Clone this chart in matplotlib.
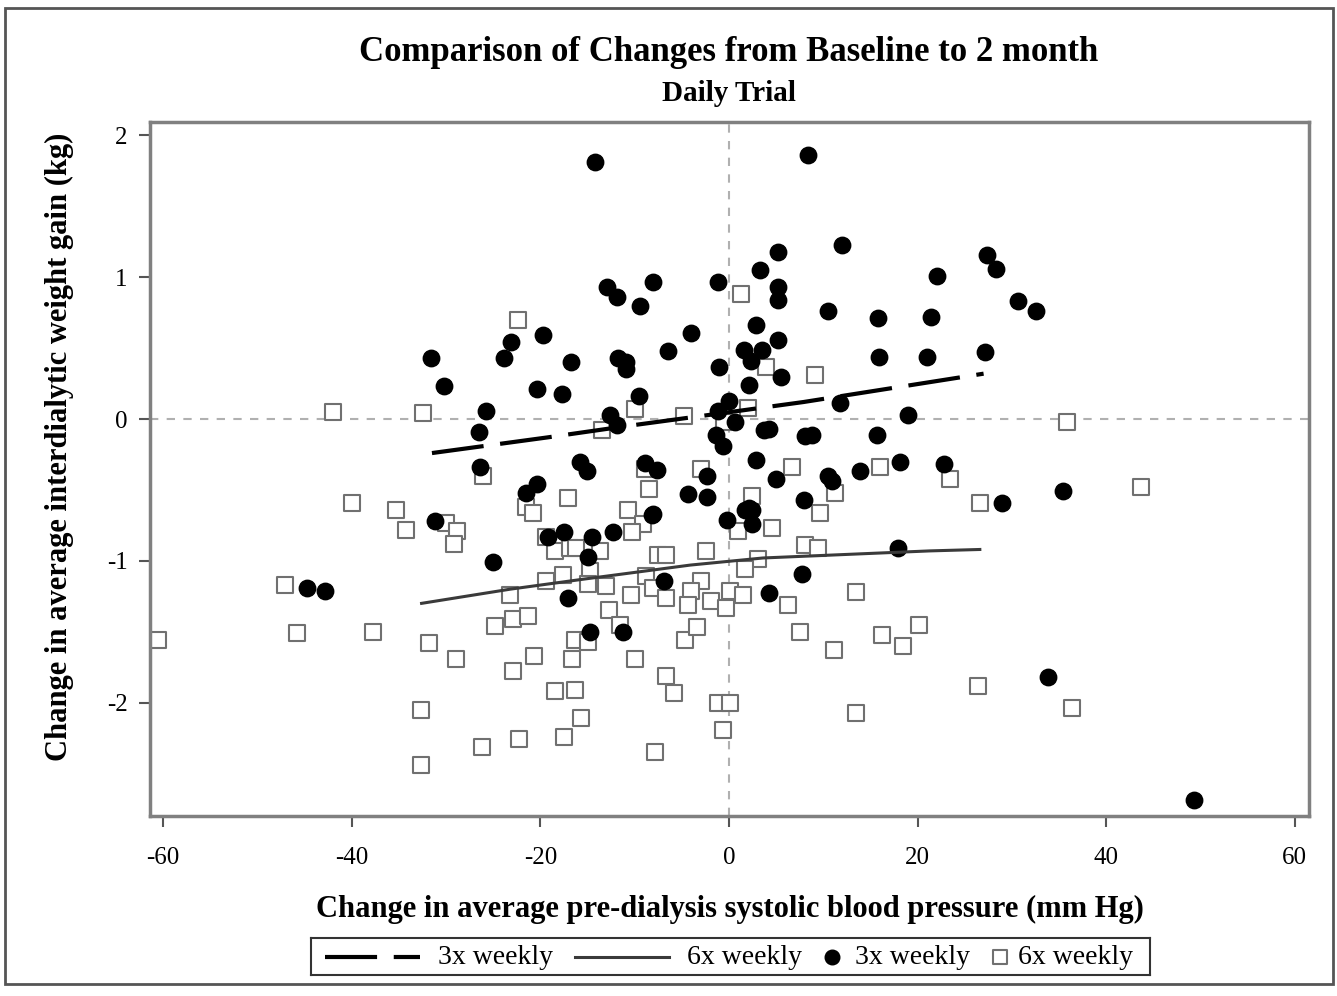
import matplotlib
matplotlib.use("Agg")
import matplotlib.pyplot as plt
from matplotlib.patches import Rectangle

plt.rcParams['font.family'] = ['Liberation Serif', 'DejaVu Serif']
plt.rcParams['axes.unicode_minus'] = False

# 3x weekly subjects (filled circles): change in SBP (mm Hg), change in IDWG (kg)
x_3x = [-14.2, 8.4, -31.6, -30.2, -25.8, -26.5, -23.1, -23.9, -19.7, -16.8,
        -20.4, -17.7, -12.9, -11.9, -9.4, -8.1, -4.0, -6.5, -11.8, -10.9,
        -10.9, -9.5, -12.6, -11.9, -1.2, -1.1, -1.4, -0.6, 0.0, -1.2,
        0.6, 2.1, 1.6, 3.5, 2.3, 2.9, 5.2, 5.5, 5.2, 3.3,
        5.2, 5.2, 12.0, 10.5, 15.8, 15.9, 21.0, 21.4, 22.1, 27.4,
        28.3, 30.7, 32.6, 27.1, 11.8, 19.0, 3.7, 4.2, 8.1, 8.8,
        15.7, 2.9, -2.3, 5.0, 10.5, 10.9, 13.9, 18.1, 22.8, -2.3,
        2.1, 8.0, 28.9, 35.4, 33.8, 49.3, -15.8, -15.1, -8.9, -7.6,
        -4.4, -8.1, -0.2, 1.7, 2.4, 2.4, 7.7, 4.2, 17.9, -26.4,
        -21.5, -20.4, -31.2, -25.0, -19.2, -17.5, -14.5, -12.3, -14.9, -8.2,
        -6.9, -17.1, -14.7, -11.2, -44.7, -42.8]
y_3x = [1.81, 1.86, 0.43, 0.23, 0.06, -0.09, 0.54, 0.43, 0.59, 0.40,
        0.21, 0.18, 0.93, 0.86, 0.80, 0.97, 0.61, 0.48, 0.43, 0.40,
        0.35, 0.16, 0.03, -0.04, 0.97, 0.37, -0.11, -0.19, 0.13, 0.06,
        -0.02, 0.24, 0.49, 0.49, 0.41, 0.66, 0.56, 0.30, 1.18, 1.05,
        0.93, 0.84, 1.23, 0.76, 0.71, 0.44, 0.44, 0.72, 1.01, 1.16,
        1.06, 0.83, 0.76, 0.47, 0.11, 0.03, -0.08, -0.07, -0.12, -0.11,
        -0.11, -0.29, -0.40, -0.42, -0.40, -0.44, -0.37, -0.30, -0.32, -0.55,
        -0.63, -0.57, -0.59, -0.51, -1.82, -2.69, -0.30, -0.37, -0.31, -0.36,
        -0.53, -0.67, -0.71, -0.64, -0.64, -0.74, -1.09, -1.23, -0.91, -0.34,
        -0.52, -0.46, -0.72, -1.01, -0.83, -0.80, -0.83, -0.80, -0.97, -0.68,
        -1.14, -1.26, -1.50, -1.50, -1.19, -1.21]

# 6x weekly subjects (open squares)
x_6x = [-42.0, -32.4, 1.3, -22.4, -10.0, -4.8, -13.5, 3.9, 9.1, 2.0,
        -0.5, 35.8, 43.7, 23.4, 26.6, 16.0, 6.7, 11.2, 9.7, 2.4,
        -3.0, -8.5, -17.1, -21.5, -20.8, -26.1, -8.9, -10.7, -9.1, -10.3,
        -19.4, -18.4, -16.9, -16.2, -13.7, -14.7, -7.5, -6.7, -2.4, -17.6,
        -19.4, -15.0, -13.0, -8.8, -8.1, -10.4, -6.7, -3.0, -4.0, -4.4,
        -23.2, -24.8, -22.9, -21.3, -31.8, -12.7, -11.6, -16.3, -15.0, -4.7,
        -3.4, -28.9, -22.9, -20.7, -16.6, -10.0, -18.5, -16.3, -6.7, -5.8,
        -32.7, -15.7, -26.2, -22.3, -17.5, -7.9, -32.7, -40.0, -35.3, -34.3,
        -30.0, -28.8, -29.2, -47.1, -45.8, -37.7, -60.5, 4.6, 1.0, 8.1,
        9.4, 3.1, 1.7, -1.9, 0.1, 1.5, -0.3, 6.3, 13.5, 7.5,
        11.1, 16.2, 18.4, 20.1, 26.4, -1.2, 0.1, -0.6, 13.5, 36.4]
y_6x = [0.05, 0.04, 0.88, 0.70, 0.07, 0.02, -0.08, 0.37, 0.31, 0.08,
        -0.02, -0.02, -0.48, -0.42, -0.59, -0.34, -0.34, -0.52, -0.66, -0.54,
        -0.35, -0.49, -0.56, -0.62, -0.66, -0.40, -0.35, -0.64, -0.74, -0.80,
        -0.83, -0.93, -0.91, -0.91, -0.93, -1.07, -0.96, -0.96, -0.93, -1.10,
        -1.14, -1.16, -1.18, -1.11, -1.19, -1.24, -1.26, -1.14, -1.21, -1.31,
        -1.24, -1.46, -1.41, -1.39, -1.58, -1.35, -1.45, -1.56, -1.57, -1.56,
        -1.47, -1.69, -1.78, -1.67, -1.69, -1.69, -1.92, -1.91, -1.81, -1.93,
        -2.05, -2.11, -2.31, -2.26, -2.24, -2.35, -2.44, -0.59, -0.64, -0.78,
        -0.73, -0.79, -0.88, -1.17, -1.51, -1.50, -1.56, -0.77, -0.79, -0.89,
        -0.91, -0.99, -1.06, -1.28, -1.21, -1.24, -1.33, -1.31, -1.22, -1.50,
        -1.63, -1.52, -1.60, -1.45, -1.88, -2.00, -2.00, -2.19, -2.07, -2.04]

# fitted curves
fit3_x = [-31.5, -19.3, -10.9, -3.1, 7.9, 27.0]
fit3_y = [-0.24, -0.13, -0.05, 0.02, 0.12, 0.32]
fit6_x = [-32.6, -23.2, -15.5, -4.1, 3.6, 21.3, 26.6]
fit6_y = [-1.30, -1.20, -1.13, -1.03, -0.98, -0.93, -0.92]

legend_labels = ["3x weekly", "6x weekly", "3x weekly", "6x weekly"]

DASH = (0, (12.5, 4))
LINE6_COLOR = "#3a3a3a"
SQ_EDGE = "#707070"

fig = plt.figure(figsize=(13.37, 9.96), dpi=100)
ax = fig.add_axes([0.1122, 0.1807, 0.8668, 0.6968])

ax.axhline(0, color="#b0b0b0", lw=1.5, ls=(0, (4, 4)), zorder=1)
ax.axvline(0, color="#b0b0b0", lw=1.5, ls=(0, (4, 4)), zorder=1)

ax.plot(fit3_x, fit3_y, color="black", lw=3, ls=DASH, zorder=4)
ax.plot(fit6_x, fit6_y, color=LINE6_COLOR, lw=2.2, zorder=4)
ax.scatter(x_3x, y_3x, s=140, color="black", marker="o", zorder=3)
ax.scatter(x_6x, y_6x, s=130, facecolor="white", edgecolor=SQ_EDGE,
           linewidth=1.5, marker="s", zorder=2)

ax.set_xlim(-61.4, 61.5)
ax.set_ylim(-2.80, 2.095)
ax.set_xticks([-60, -40, -20, 0, 20, 40, 60])
ax.set_yticks([-2, -1, 0, 1, 2])
ax.tick_params(direction="out", length=8, width=1.5, labelsize=18,
               color="#555555")
ax.tick_params(axis="x", pad=14)
ax.tick_params(axis="y", pad=8)
for s in ax.spines.values():
    s.set_color("#808080")
    s.set_linewidth(2.5)

ax.set_xlabel("Change in average pre-dialysis systolic blood pressure (mm Hg)",
              fontsize=22, fontweight="bold")
ax.xaxis.set_label_coords(0.5, -0.135)
ax.xaxis.label.set_va("center")
ax.set_ylabel("Change in average interdialytic weight gain (kg)",
              fontsize=22, fontweight="bold")
ax.yaxis.set_label_coords(-0.078, 0.532)
ax.yaxis.label.set_va("center")

fig.text(0.545, 0.947, "Comparison of Changes from Baseline to 2 month",
         ha="center", va="center", fontsize=25, fontweight="bold")
fig.text(0.545, 0.906, "Daily Trial", ha="center", va="center",
         fontsize=21, fontweight="bold")

# legend drawn in its own small axes, units are pixels inside the box
lax = fig.add_axes([311 / 1337, 1 - 975 / 996, 839 / 1337, 37 / 996])
lax.set_xlim(0, 839)
lax.set_ylim(0, 37)
lax.set_xticks([])
lax.set_yticks([])
for s in lax.spines.values():
    s.set_color("#333333")
    s.set_linewidth(1.5)
ym = 18.5
lax.plot([14, 109], [ym, ym], color="black", lw=3, ls=DASH)
lax.plot([264, 358], [ym, ym], color=LINE6_COLOR, lw=2.2)
lax.scatter([521], [ym], s=110, color="black", marker="o")
lax.scatter([689], [ym], s=90, facecolor="white", edgecolor=SQ_EDGE,
            linewidth=1.5, marker="s")
for xt, lab in zip([127, 376, 544, 707], legend_labels):
    lax.text(xt, ym - 1, lab, fontsize=20, ha="left", va="center")

fig.patches.append(Rectangle((0.004, 0.012), 0.993, 0.98, fill=False,
                             edgecolor="#555555", lw=2,
                             transform=fig.transFigure, figure=fig))

fig.savefig("out.png", dpi=100)
